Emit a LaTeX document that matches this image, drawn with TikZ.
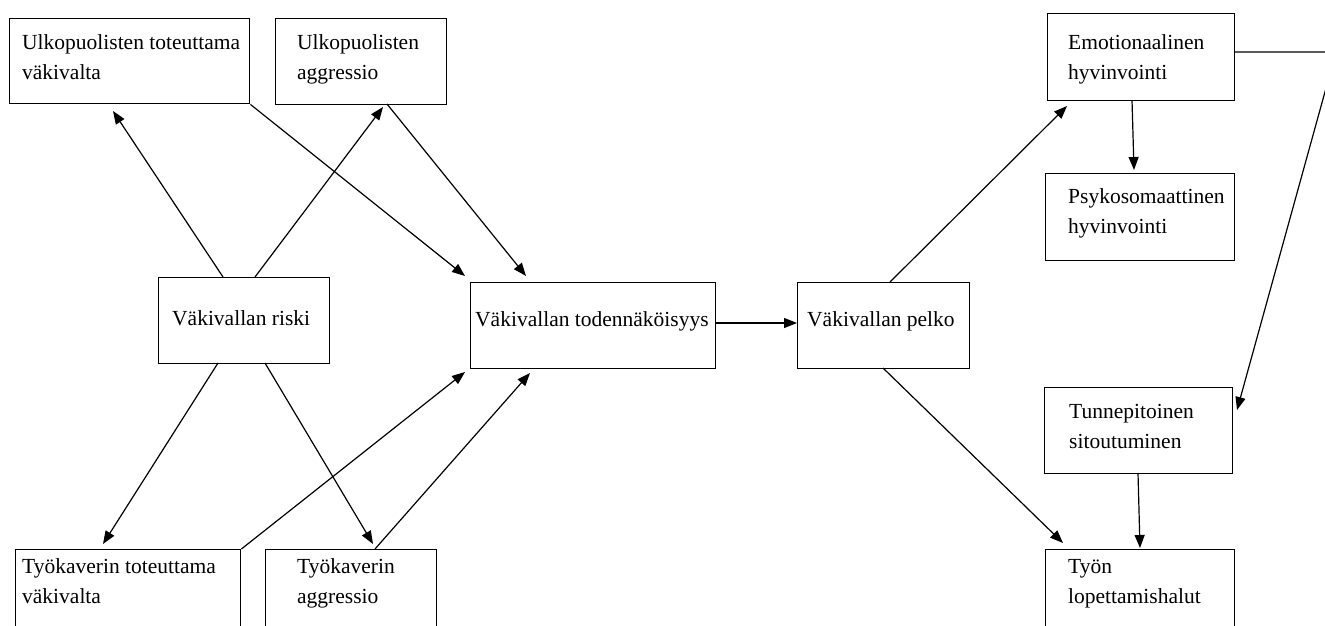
\documentclass[tikz,border=0pt]{standalone}
\usepackage{fontspec}
\setmainfont{Liberation Serif}
\usetikzlibrary{arrows.meta,calc}
\begin{document}
\begin{tikzpicture}[x=1pt,y=-1pt,
  box/.style={draw=black, line width=1.4pt, rectangle, inner sep=0pt, anchor=north west},
  txt/.style={inner sep=0pt, anchor=base west, align=left, font=\fontsize{21.5}{30}\selectfont},
  arr/.style={draw=black, line width=1.2pt, -{Triangle[length=13pt,width=10pt]}}]
\useasboundingbox (0,0) rectangle (1325,626);
\fill[white] (0,0) rectangle (1325,626);
% boxes
\node[box, minimum width=240pt, minimum height=85pt] (A) at (9,18) {};
\node[box, minimum width=171pt, minimum height=86pt] (B) at (275,18) {};
\node[box, minimum width=171pt, minimum height=86pt] (C) at (158,277) {};
\node[box, minimum width=245pt, minimum height=86pt] (D) at (470,282) {};
\node[box, minimum width=172pt, minimum height=86pt] (E) at (797,282) {};
\node[box, minimum width=187pt, minimum height=87pt] (F) at (1047,13) {};
\node[box, minimum width=189pt, minimum height=87pt] (G) at (1045,173) {};
\node[box, minimum width=188pt, minimum height=86pt] (H) at (1044,387) {};
\node[box, minimum width=189pt, minimum height=100pt] (I) at (1045,549) {};
\node[box, minimum width=225pt, minimum height=100pt] (J) at (15,549) {};
\node[box, minimum width=171pt, minimum height=100pt] (K) at (265,549) {};
% texts (base = baseline of the last line)
\node[txt] (tA) at ($(A.north west)+(13,62)$) {Ulkopuolisten toteuttama\\väkivalta};
\node[txt] (tB) at ($(B.north west)+(22,62)$) {Ulkopuolisten\\aggressio};
\node[txt] (tC) at ($(C.north west)+(14,48)$) {Väkivallan riski};
\node[txt] (tD) at ($(D.north west)+(5,44)$) {Väkivallan todennäköisyys};
\node[txt] (tE) at ($(E.north west)+(10,44)$) {Väkivallan pelko};
\node[txt] (tF) at ($(F.north west)+(21,67)$) {Emotionaalinen\\hyvinvointi};
\node[txt] (tG) at ($(G.north west)+(23,60)$) {Psykosomaattinen\\hyvinvointi};
\node[txt] (tH) at ($(H.north west)+(25,61)$) {Tunnepitoinen\\sitoutuminen};
\node[txt] (tI) at ($(I.north west)+(23,54)$) {Työn\\lopettamishalut};
\node[txt] (tJ) at ($(J.north west)+(7,54)$) {Työkaverin toteuttama\\väkivalta};
\node[txt] (tK) at ($(K.north west)+(32,54)$) {Työkaverin\\aggressio};
% connectors
\draw[arr] ($(C.north west)+(65,0)$) -- ($(A.north west)+(104,93)$);
\draw[arr] ($(C.north west)+(97,0)$) -- ($(B.north west)+(108,89)$);
\draw[arr] (A.south east) -- ($(D.north west)+(-5,-6)$);
\draw[arr] ($(B.north west)+(112,86)$) -- ($(D.north west)+(56,-6)$);
\draw[arr] ($(C.north west)+(60,86)$) -- ($(J.north west)+(88,-5)$);
\draw[arr] ($(C.north west)+(107,86)$) -- ($(K.north west)+(108,-5)$);
\draw[arr] (J.north east) -- ($(D.north west)+(-5,90)$);
\draw[arr] ($(K.north west)+(110,0)$) -- ($(D.north west)+(60,91)$);
\draw[arr] ($(D.north east)+(0,41)$) -- ($(E.north west)+(0,41)$);
\draw[arr] ($(E.north west)+(93,0)$) -- ($(F.north west)+(20,93)$);
\draw[arr] ($(E.north west)+(86,86)$) -- ($(I.north west)+(18,-6)$);
\draw[arr] ($(F.north west)+(85,87)$) -- ($(G.north west)+(89,-3)$);
\draw[arr] ($(H.north west)+(94,86)$) -- ($(I.north west)+(95,-1)$);
\coordinate (fh) at (1336,52);
\draw[arr] ($(F.north west)+(187,39)$) -- (fh) -- ($(H.north west)+(193,23)$);
\end{tikzpicture}
\end{document}
